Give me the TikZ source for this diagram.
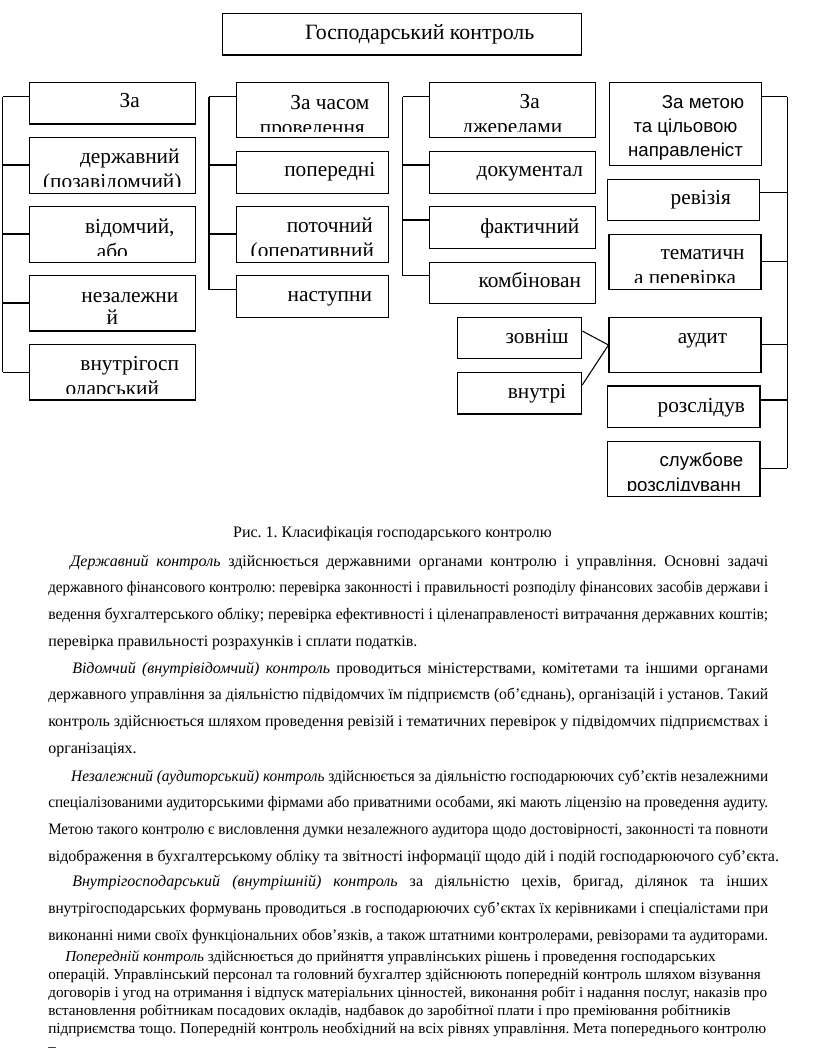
\documentclass[tikz,border=0pt]{standalone}
\usepackage{fontspec}
\setmainfont{Liberation Serif}
\setsansfont{Liberation Sans}
\usetikzlibrary{fit,calc}
\newcommand\bx[5]{\node[box, fit={(#2,#3)(#4,#5)}] (#1) {};%
  \gdef\bxa{#2}\gdef\bxb{#3}\gdef\bxc{#4}\gdef\bxd{#5}}
\newcommand\tx[6]{%
  \begin{scope}
    \clip (\bxa,\bxb) rectangle (\bxc,\bxd-6.5);
    \node[lbl] (#1-1) at ({(\bxa+\bxc)/2+17.5},#2) {#4};
    \if\relax\detokenize{#5}\relax\else
      \node[lbl] (#1-2) at ({(\bxa+\bxc)/2},{#2+#3}) {#5};\fi
    \if\relax\detokenize{#6}\relax\else
      \node[lbl] (#1-3) at ({(\bxa+\bxc)/2},{#2+2*#3}) {#6};\fi
  \end{scope}}
% justified line of exactly 540pt
\newcommand\J[1]{\setbox0=\hbox{\spaceskip=3pt plus 1fil minus 0.4pt #1}%
  \ifdim\wd0>540pt
    \pgfmathsetmacro\jr{540/\wd0}%
    \hbox{\scalebox{\jr}[1]{\box0}}%
  \else
    \hbox to 540pt{\spaceskip=3pt plus 1fil minus 0.4pt #1}%
  \fi}
\newcommand\N[1]{\hbox{#1}}
\newcommand\sfb{\fontsize{14pt}{16pt}\sffamily}
\frenchspacing
\begin{document}
\begin{tikzpicture}[x=0.75pt,y=-0.75pt,
  box/.style={draw, line width=0.8pt, inner sep=0pt},
  conn/.style={line width=0.8pt},
  lbl/.style={anchor=base, inner sep=0pt, font=\fontsize{16pt}{19pt}\selectfont},
  para/.style={anchor=base west, inner sep=0pt, font=\fontsize{12pt}{14pt}\selectfont\frenchspacing}]
\useasboundingbox (0,0) rectangle (816,1055);

% title
\bx{title}{222.7}{13.3}{581.7}{55}
\tx{title}{40}{0}{\fontsize{16.4pt}{19pt}\selectfont Господарський контроль}{}{}

% column 1
\bx{a1}{29.3}{82.7}{195.3}{124}\tx{a1}{108}{25}{За}{}{}
\bx{a2}{29.3}{137.7}{195.3}{193.3}\tx{a2}{164}{25}{державний}{(позавідомчий)}{}
\bx{a3}{29.3}{206.7}{195.3}{262.3}\tx{a3}{233.3}{25}{відомчий,}{або}{}
\bx{a4}{29.3}{275.7}{195.3}{331}\tx{a4}{302.3}{21.7}{незалежни}{й}{}
\bx{a5}{29.3}{344.7}{195.3}{400}\tx{a5}{370.7}{25}{внутрігосп}{одарський}{}

% column 2
\bx{b1}{236.3}{82.7}{388.3}{137.7}\tx{b1}{109.3}{25}{За часом}{проведення}{}
\bx{b2}{236.3}{151.7}{388.3}{193.3}\tx{b2}{176.7}{25}{попередні}{}{}
\bx{b3}{236.3}{206.7}{388.3}{262.3}\tx{b3}{233}{25}{поточний}{(оперативний}{}
\bx{b4}{236.3}{275.7}{388.3}{317.3}\tx{b4}{301.7}{25}{наступни}{}{}

% column 3
\bx{c1}{429.3}{82.7}{595.3}{137.7}\tx{c1}{109}{25}{За}{джерелами}{}
\bx{c2}{429.3}{151.7}{595.3}{193.3}\tx{c2}{176.7}{25}{документал}{}{}
\bx{c3}{429.3}{206.7}{595.3}{248.3}\tx{c3}{233.3}{25}{фактичний}{}{}
\bx{c4}{429.3}{262.3}{595.3}{303.3}\tx{c4}{287.3}{25}{комбінован}{}{}

% column 4
\bx{d1}{609.3}{82.7}{761.7}{165.7}\tx{d1}{108.3}{24.3}{\sfb За метою}{\sfb та цільовою}{\sfb направленіст}
\bx{d2}{607.3}{179.3}{759.3}{220.7}\tx{d2}{205}{25}{ревізія}{}{}
\bx{d3}{609}{234.3}{761}{289.3}\tx{d3}{259.3}{25}{тематичн}{а перевірка}{}
\bx{d4}{609}{317.3}{761}{372.7}\tx{d4}{343.3}{25}{аудит}{}{}
\bx{d5}{607.7}{386}{760}{427.3}\tx{d5}{412.3}{25}{розслідув}{}{}
\bx{d6}{607.7}{441.3}{760}{496.7}\tx{d6}{466.7}{25}{\sfb службове}{\sfb розслідуванн}{}

% audit kinds
\bx{e1}{457.3}{317.3}{581.7}{358.7}\tx{e1}{343.3}{25}{зовніш}{}{}
\bx{e2}{457.3}{372.7}{581.7}{414}\tx{e2}{398.3}{25}{внутрі}{}{}

% brackets
\coordinate (L1) at (2.7,0);
\coordinate (L2) at (209,0);
\coordinate (L3) at (402.7,0);
\coordinate (L4) at (787.3,0);
\draw[conn] (L1 |- 0,96.7) -- (L1 |- 0,372.3);
\foreach \n/\y in {a1/96.7,a2/165,a3/234,a4/303,a5/372.3}
  \draw[conn] (\n.west |- 0,\y) -- (L1 |- 0,\y);
\draw[conn] (L2 |- 0,96.7) -- (L2 |- 0,289.7);
\foreach \n/\y in {b1/96.7,b2/165,b3/234,b4/289.7}
  \draw[conn] (\n.west |- 0,\y) -- (L2 |- 0,\y);
\draw[conn] (L3 |- 0,96.7) -- (L3 |- 0,275.7);
\foreach \n/\y in {c1/96.7,c2/165,c3/220,c4/275.7}
  \draw[conn] (\n.west |- 0,\y) -- (L3 |- 0,\y);
\draw[conn] (L4 |- 0,96.7) -- (L4 |- 0,468.3);
\foreach \n/\y in {d1/96.7,d2/192.7,d3/261.7,d4/344.7,d5/400,d6/468.3}
  \draw[conn] (\n.east |- 0,\y) -- (L4 |- 0,\y);
\draw[conn] (e1.east |- 0,331) -- (d4.west);
\draw[conn] (e2.east |- 0,385) -- (d4.west);

% caption
\node[anchor=base, inner sep=0pt, font=\fontsize{12pt}{14pt}\selectfont] (cap) at (392.5,537) {Рис. 1. Класифікація господарського контролю};

% paragraphs
\node[para] (p1) at (48,646) {\vbox{\baselineskip=20pt\lineskiplimit=-100pt
\J{\hskip 16.5pt\textit{Державний контроль} здійснюється державними органами контролю і управління. Основні задачі}
\J{державного фінансового контролю: перевірка законності і правильності розподілу фінансових засобів держави і}
\J{ведення бухгалтерського обліку; перевірка ефективності і ціленаправленості витрачання державних коштів;}
\N{перевірка правильності розрахунків і сплати податків.}}};

\node[para] (p2) at (48,753) {\vbox{\baselineskip=20pt\lineskiplimit=-100pt
\J{\hskip 18pt\textit{Відомчий (внутрівідомчий) контроль} проводиться міністерствами, комітетами та іншими органами}
\J{державного управління за діяльністю підвідомчих їм підприємств (об'єднань), організацій і установ. Такий}
\J{контроль здійснюється шляхом проведення ревізій і тематичних перевірок у підвідомчих підприємствах і}
\N{організаціях.}}};

\node[para] (p3) at (48,861) {\vbox{\baselineskip=20pt\lineskiplimit=-100pt
\J{\hskip 18pt\textit{Незалежний (аудиторський) контроль} здійснюється за діяльністю господарюючих суб'єктів незалежними}
\J{спеціалізованими аудиторськими фірмами або приватними особами, які мають ліцензію на проведення аудиту.}
\J{Метою такого контролю є висловлення думки незалежного аудитора щодо достовірності, законності та повноти}
\N{відображення в бухгалтерському обліку та звітності інформації щодо дій і подій господарюючого суб'єкта.}}};

\node[para] (p4) at (48,940) {\vbox{\baselineskip=20pt\lineskiplimit=-100pt
\J{\hskip 18pt\textit{Внутрігосподарський (внутрішній) контроль} за діяльністю цехів, бригад, ділянок та інших}
\J{внутрігосподарських формувань проводиться .в господарюючих суб'єктах їх керівниками і спеціалістами при}
\J{виконанні ними своїх функціональних обов'язків, а також штатними контролерами, ревізорами та аудиторами.}}};

\node[para, font=\fontsize{11.4pt}{13.5pt}\selectfont\frenchspacing] (p5) at (48,1051) {\vbox{\baselineskip=13.5pt\lineskiplimit=-100pt
\N{\hskip 12.75pt\textit{Попередній контроль} здійснюється до прийняття управлінських рішень і проведення господарських}
\N{операцій. Управлінський персонал та головний бухгалтер здійснюють попередній контроль шляхом візування}
\N{договорів і угод на отримання і відпуск матеріальних цінностей, виконання робіт і надання послуг, наказів про}
\N{встановлення робітникам посадових окладів, надбавок до заробітної плати і про преміювання робітників}
\N{підприємства тощо. Попередній контроль необхідний на всіх рівнях управління. Мета попереднього контролю}
\N{–}}};
\end{tikzpicture}
\end{document}
